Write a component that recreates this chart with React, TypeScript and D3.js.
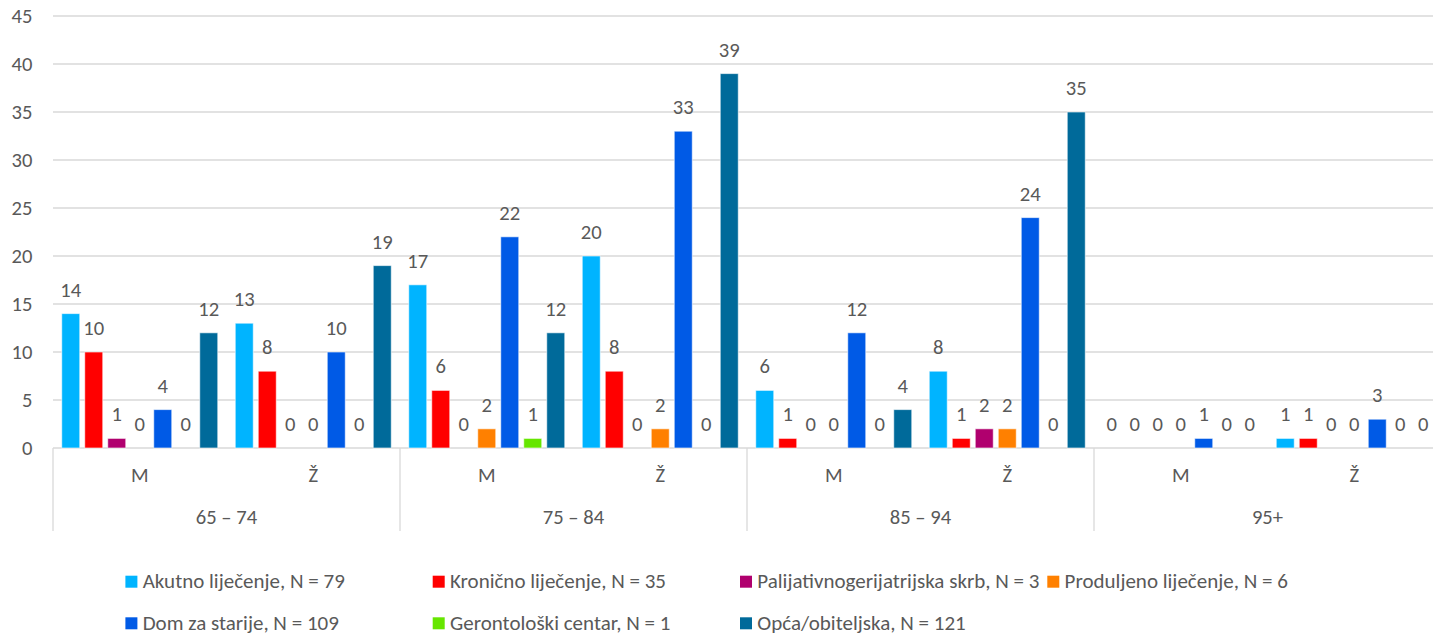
import React from "react";
import * as d3 from "d3";

const ageGroups = ["65 – 74", "75 – 84", "85 – 94", "95+"];
const sexes = ["M", "Ž"];
const seriesNames = [
  "Akutno liječenje, N = 79",
  "Kronično liječenje, N = 35",
  "Palijativnogerijatrijska skrb, N = 3",
  "Produljeno liječenje, N = 6",
  "Dom za starije, N = 109",
  "Gerontološki centar, N = 1",
  "Opća/obiteljska, N = 121",
];
const seriesColors = ["#00B4FF", "#FF0000", "#B0006E", "#FF8000", "#005AE6", "#66E600", "#006A9A"];
// values per category (age × sex), order: 65–74 M, 65–74 Ž, 75–84 M, 75–84 Ž, 85–94 M, 85–94 Ž, 95+ M, 95+ Ž
const akutno = [14, 13, 17, 20, 6, 8, 0, 1];
const kronicno = [10, 8, 6, 8, 1, 1, 0, 1];
const palijativno = [1, 0, 0, 0, 0, 2, 0, 0];
const produljeno = [0, 0, 2, 2, 0, 2, 0, 0];
const dom = [4, 10, 22, 33, 12, 24, 1, 3];
const gerontoloski = [0, 0, 1, 0, 0, 0, 0, 0];
const opca = [12, 19, 12, 39, 4, 35, 0, 0];
const seriesValues = [akutno, kronicno, palijativno, produljeno, dom, gerontoloski, opca];
const yTicks = [0, 5, 10, 15, 20, 25, 30, 35, 40, 45];

const W = 1433;
const H = 635;
const left = 53;
const right = 1441;
const top = 16;
const bottom = 448;
const FONT = "Carlito, Calibri, Lato, sans-serif";
const FS = 20.6;
const LFS = 21;
const TXT = "#595959";
const GRID = "#d9d9d9";

// legend layout: 4 equal columns, 2 rows
const legendCols = 4;
const legendX0 = 125.4;
const legendColW = 307.3;
const legendBaselines = [588, 629.6];
const legendMarker = 12;

export default function App() {
  const cats: string[] = [];
  ageGroups.forEach((a) => sexes.forEach((s) => cats.push(a + "|" + s)));
  const x0 = d3.scaleBand<string>().domain(cats).range([left, right]).padding(0);
  const xAge = d3.scaleBand<string>().domain(ageGroups).range([left, right]).padding(0);
  const x1 = d3
    .scaleBand<number>()
    .domain(d3.range(seriesNames.length))
    .range([0, x0.bandwidth()])
    .paddingInner(0.217)
    .paddingOuter(0.38);
  const y = d3.scaleLinear().domain([0, 45]).range([bottom, top]);

  return (
    <svg
      width={W}
      height={H}
      style={{ position: "absolute", left: 0, top: 0, background: "#fff" }}
      fontFamily={FONT}
      fontSize={FS}
      fill={TXT}
    >
      {yTicks.map((t) => (
        <g key={t}>
          <line x1={left} x2={right} y1={y(t)} y2={y(t)} stroke={GRID} strokeWidth={1.3} />
          <text x={32.5} y={y(t) + 6.7} textAnchor="end">
            {t}
          </text>
        </g>
      ))}
      {ageGroups.map((a) => (
        <line
          key={"d" + a}
          x1={xAge(a)!}
          x2={xAge(a)!}
          y1={bottom}
          y2={531}
          stroke={GRID}
          strokeWidth={1.3}
        />
      ))}
      {cats.map((c, ci) => {
        const [, s] = c.split("|");
        return (
          <g key={c}>
            {seriesValues.map((vals, si) => {
              const v = vals[ci];
              const bx = x0(c)! + x1(si)!;
              const bw = x1.bandwidth();
              return (
                <g key={si}>
                  {v > 0 && (
                    <rect
                      x={bx}
                      y={y(v)}
                      width={bw}
                      height={y(0) - y(v)}
                      fill={seriesColors[si]}
                      stroke="#ffffff"
                      strokeOpacity={0.6}
                      strokeWidth={1}
                    />
                  )}
                  <text x={bx + bw / 2} y={y(v) - 17} textAnchor="middle">
                    {v}
                  </text>
                </g>
              );
            })}
            <text x={x0(c)! + x0.bandwidth() / 2} y={482.3} textAnchor="middle">
              {s}
            </text>
          </g>
        );
      })}
      {ageGroups.map((a) => (
        <text key={"l" + a} x={xAge(a)! + xAge.bandwidth() / 2} y={524} textAnchor="middle">
          {a}
        </text>
      ))}
      {seriesNames.map((n, i) => {
        const col = i % legendCols;
        const row = Math.floor(i / legendCols);
        const lx = legendX0 + col * legendColW;
        const by = legendBaselines[row];
        return (
          <g key={n}>
            <rect x={lx} y={by - 12.3} width={legendMarker} height={legendMarker} fill={seriesColors[i]} />
            <text x={lx + 17.3} y={by} fontSize={LFS}>
              {n}
            </text>
          </g>
        );
      })}
    </svg>
  );
}
